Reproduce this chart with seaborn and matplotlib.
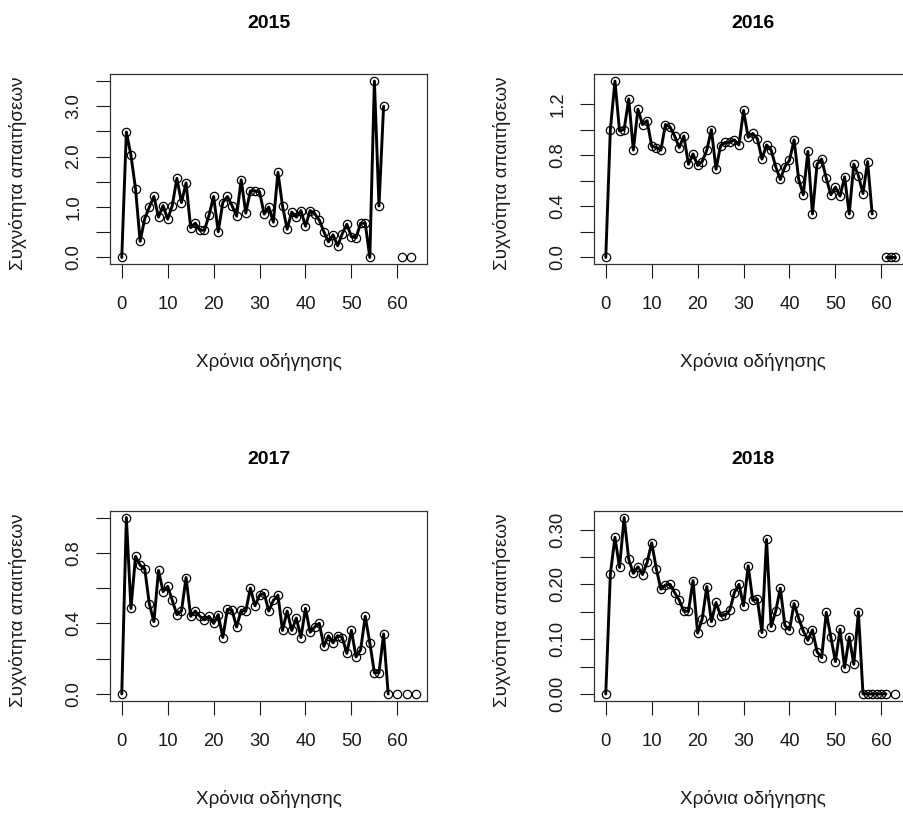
import numpy as np
import pandas as pd
import matplotlib
matplotlib.use("Agg")
import matplotlib.pyplot as plt
import seaborn as sns

nan = np.nan

# Claim frequency by years of driving (index 0..64), one list per year
years_of_driving = list(range(65))

freq_2015 = [0, 2.49, 2.03, 1.36, 0.32, 0.77, 1.00, 1.21, 0.80, 1.03,
             0.76, 1.03, 1.57, 1.09, 1.48, 0.59, 0.68, 0.54, 0.54, 0.84,
             1.21, 0.51, 1.09, 1.21, 1.03, 0.82, 1.54, 0.88, 1.32, 1.32,
             1.30, 0.86, 1.00, 0.70, 1.69, 1.02, 0.56, 0.90, 0.80, 0.93,
             0.62, 0.93, 0.87, 0.74, 0.51, 0.31, 0.45, 0.23, 0.47, 0.66,
             0.41, 0.39, 0.68, 0.68, 0, 3.50, 1.02, 3.00, nan, nan,
             nan, 0, nan, 0, nan]

freq_2016 = [0, 1.00, 1.38, 0.99, 1.00, 1.24, 0.84, 1.16, 1.04, 1.07,
             0.87, 0.86, 0.84, 1.04, 1.02, 0.95, 0.86, 0.95, 0.73, 0.81,
             0.72, 0.75, 0.84, 1.00, 0.69, 0.875, 0.90, 0.90, 0.92, 0.88,
             1.15, 0.94, 0.97, 0.93, 0.77, 0.88, 0.84, 0.71, 0.61, 0.71,
             0.76, 0.92, 0.61, 0.49, 0.83, 0.34, 0.73, 0.77, 0.62, 0.49,
             0.55, 0.48, 0.63, 0.34, 0.73, 0.64, 0.50, 0.75, 0.34, nan,
             nan, 0, 0, 0, nan]

freq_2017 = [0, 1.00, 0.485, 0.78, 0.73, 0.71, 0.51, 0.41, 0.70, 0.58,
             0.61, 0.53, 0.45, 0.47, 0.66, 0.44, 0.47, 0.44, 0.42, 0.44,
             0.40, 0.45, 0.32, 0.48, 0.475, 0.38, 0.475, 0.47, 0.60, 0.50,
             0.56, 0.57, 0.47, 0.53, 0.56, 0.36, 0.47, 0.36, 0.43, 0.32,
             0.485, 0.35, 0.38, 0.40, 0.27, 0.33, 0.29, 0.33, 0.32, 0.23,
             0.36, 0.21, 0.25, 0.44, 0.29, 0.12, 0.12, 0.34, 0, nan,
             0, nan, 0, nan, 0]

freq_2018 = [0, 0.219, 0.286, 0.231, 0.322, 0.246, 0.220, 0.232, 0.218, 0.240,
             0.276, 0.229, 0.191, 0.199, 0.200, 0.185, 0.171, 0.151, 0.151, 0.207,
             0.111, 0.137, 0.196, 0.132, 0.167, 0.143, 0.144, 0.153, 0.185, 0.200,
             0.161, 0.234, 0.171, 0.173, 0.112, 0.282, 0.123, 0.151, 0.193, 0.125,
             0.117, 0.165, 0.138, 0.115, 0.098, 0.117, 0.077, 0.066, 0.149, 0.104,
             0.059, 0.118, 0.048, 0.104, 0.054, 0.150, 0, 0, 0, 0,
             0, 0, nan, 0, nan]

titles = ["2015", "2016", "2017", "2018"]
series = [freq_2015, freq_2016, freq_2017, freq_2018]

x_ticks = [0, 10, 20, 30, 40, 50, 60]
y_ticks = [
    [0, 0.5, 1.0, 1.5, 2.0, 2.5, 3.0, 3.5],
    [0, 0.2, 0.4, 0.6, 0.8, 1.0, 1.2],
    [0, 0.2, 0.4, 0.6, 0.8, 1.0],
    [0, 0.05, 0.10, 0.15, 0.20, 0.25, 0.30],
]
y_ticklabels = [
    ["0.0", "", "1.0", "", "2.0", "", "3.0", ""],
    ["0.0", "", "0.4", "", "0.8", "", "1.2"],
    ["0.0", "", "0.4", "", "0.8", ""],
    ["0.00", "", "0.10", "", "0.20", "", "0.30"],
]

x_label = "Χρόνια οδήγησης"
y_label = "Συχνότητα απαιτήσεων"

sns.set_theme(style="white")
plt.rcParams["font.family"] = ["Liberation Sans", "DejaVu Sans"]

W, H = 904, 813
fig = plt.figure(figsize=(W / 100, H / 100), dpi=100)


def fx(px):
    return px / W


def fy(py):
    return 1 - py / H


col_left = [110, 594]
row_top = [74, 510.5]
box_w, box_h = 317.5, 190.5
text_col = "#1a1a1a"

for i, (title, vals) in enumerate(zip(titles, series)):
    r, c = divmod(i, 2)
    left, top = col_left[c], row_top[r]
    ax = fig.add_axes([fx(left), fy(top + box_h), box_w / W, box_h / H])

    df = pd.DataFrame({"x": years_of_driving, "y": vals})
    # consecutive non-missing runs become separate line pieces
    df["seg"] = df["y"].isna().cumsum()
    df = df.dropna().reset_index(drop=True)

    sns.lineplot(data=df, x="x", y="y", units="seg", estimator=None,
                 sort=False, color="black", lw=2.1, ax=ax,
                 marker="o", markersize=6, markerfacecolor="none",
                 markeredgecolor="black", markeredgewidth=0.9)

    ymax = np.nanmax(np.array(vals, dtype=float))
    ax.set_xlim(-2.56, 66.56)
    ax.set_ylim(-0.04 * ymax, 1.04 * ymax)
    ax.set_xticks(x_ticks)
    ax.set_xticklabels([str(t) for t in x_ticks])
    ax.set_yticks(y_ticks[i])
    ax.set_yticklabels(y_ticklabels[i], rotation=90, va="center")
    ax.set_xlabel("")
    ax.set_ylabel("")
    ax.tick_params(axis="x", direction="out", length=10, width=0.8,
                   pad=13, labelsize=13.3, colors=text_col)
    ax.tick_params(axis="y", direction="out", length=10, width=0.8,
                   pad=10, labelsize=13.3, colors=text_col)
    ax.tick_params(bottom=True, left=True)
    for sp in ax.spines.values():
        sp.set_color("#333333")
        sp.set_linewidth(0.9)
        sp.set_visible(True)
    ax.grid(False)

    cx = left + box_w / 2
    fig.text(fx(cx), fy(top - 46.5), title, ha="center", va="baseline",
             fontsize=14, fontweight="bold", color="black")
    fig.text(fx(cx), fy(top + 293), x_label, ha="center", va="baseline",
             fontsize=13.6, color=text_col)
    fig.text(fx(left - 92), fy(top + box_h / 2 + 4), y_label, rotation=90,
             ha="center", va="center", fontsize=13.6, color=text_col)

fig.savefig("out.png", dpi=100, facecolor="white")
